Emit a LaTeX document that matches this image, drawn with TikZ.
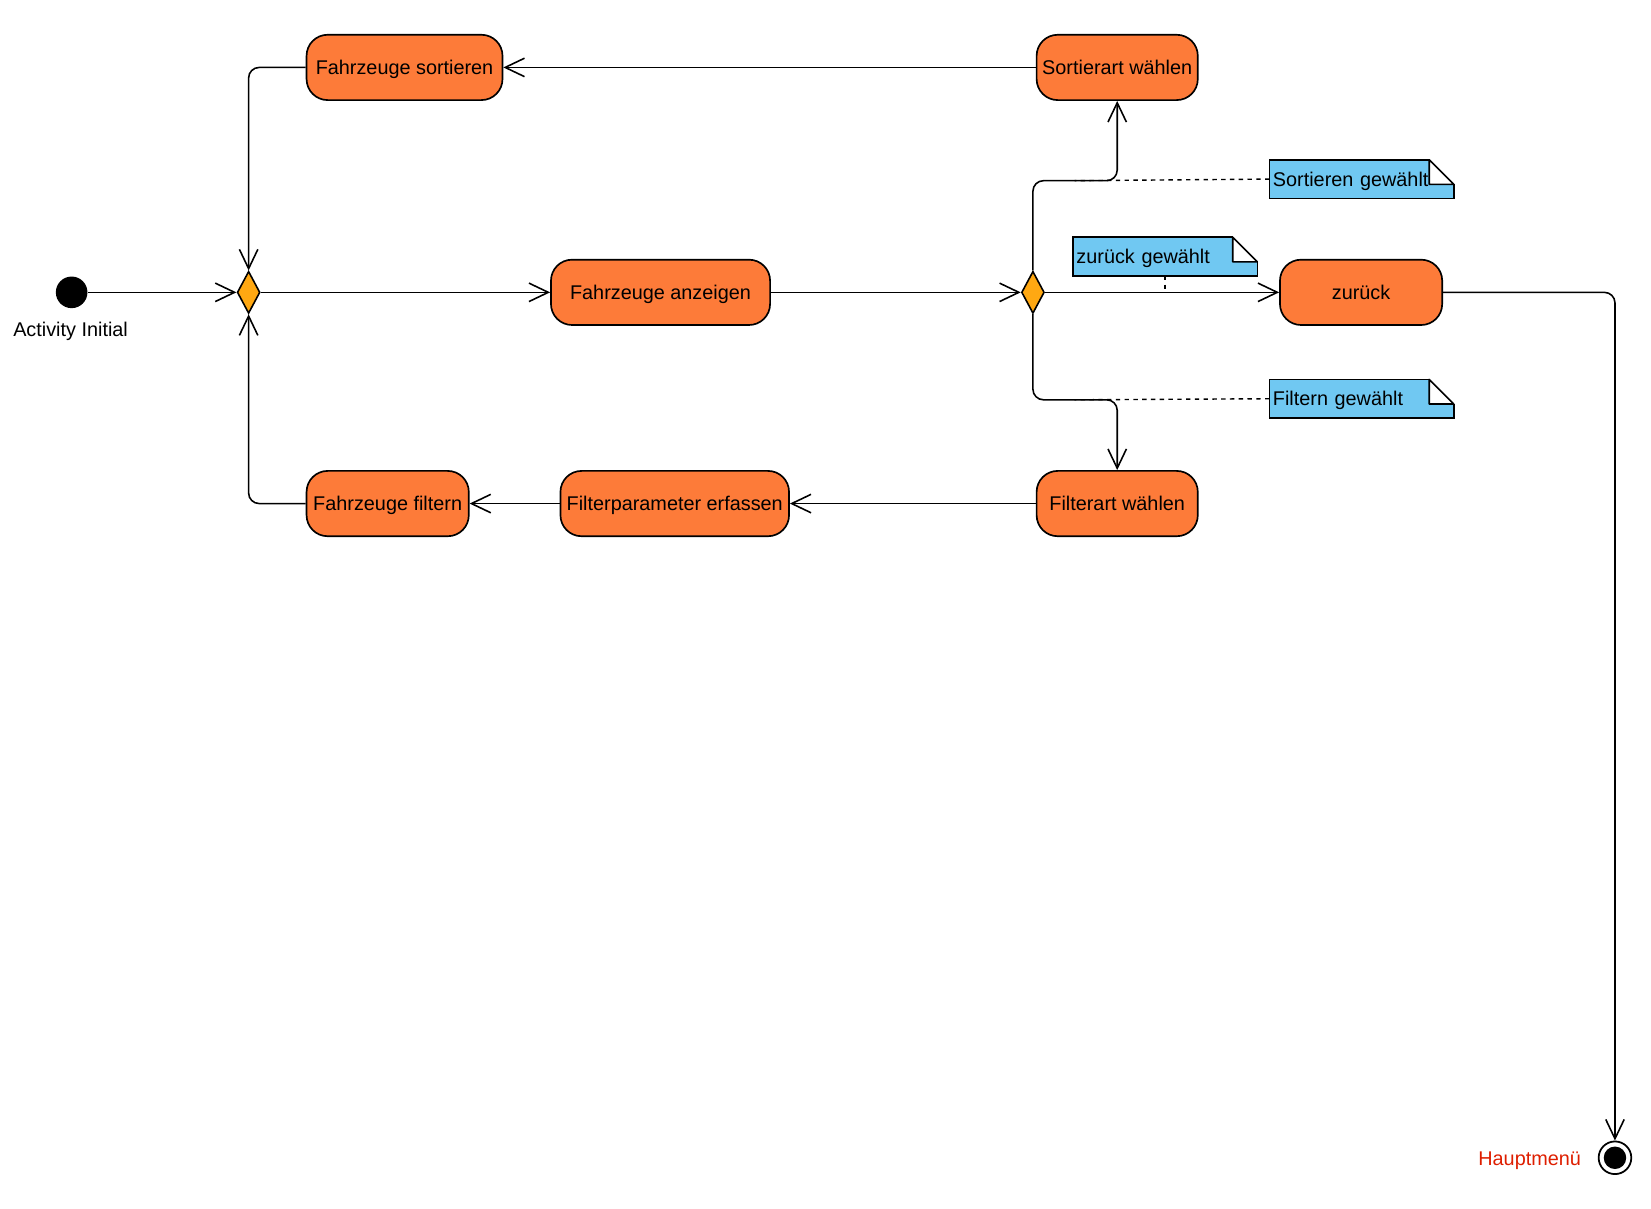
\documentclass[tikz,border=0pt]{standalone}
\usepackage{fontspec}
\setmainfont{Liberation Sans}
\usetikzlibrary{arrows.meta,shapes.geometric}
\definecolor{aktorange}{RGB}{253,123,57}
\definecolor{entsorange}{RGB}{255,168,18}
\definecolor{notizblau}{RGB}{112,200,242}
\definecolor{hmrot}{RGB}{222,30,0}
% Eselsohr einer Notiz
\newcommand{\notizfalz}[1]{%
  \fill[white] ([xshift=-14pt,yshift=0.6pt]#1.north east) rectangle ([xshift=0.6pt,yshift=-14pt]#1.north east);
  \draw[line width=0.9pt, line join=round] ([xshift=-14pt]#1.north east) -- ([yshift=-14pt]#1.north east)
    -- ([xshift=-14pt,yshift=-14pt]#1.north east) -- cycle;
}
\begin{document}
\begin{tikzpicture}[x=0.6pt, y=-0.6pt, font=\fontsize{11.3}{13.5}\selectfont,
    beschriftung/.style={text height=8.2pt, text depth=0pt},
    aktion/.style={beschriftung, draw, line width=0.95pt, fill=aktorange, rounded corners=12pt, minimum height=37.2pt, inner sep=2pt},
    entscheidung/.style={draw, line width=0.9pt, fill=entsorange, diamond, minimum width=13pt, minimum height=24pt, inner sep=0pt},
    notiz/.style={beschriftung, draw, line width=0.9pt, fill=notizblau, minimum height=22pt, text width=101pt, inner xsep=2pt, inner ysep=0pt, outer sep=0pt, align=left},
    fluss/.style={line width=0.9pt, -{Straight Barb[length=11pt,width=10.5pt]}, rounded corners=6pt},
    anker/.style={line width=0.8pt, dash pattern=on 2.5pt off 2.5pt}]
    \useasboundingbox (0,0) rectangle (1567.2,1146.7);

    % Start und Ende
    \node[circle, fill=black, minimum size=18pt, inner sep=0pt] (start) at (68,277.5) {};
    \node[beschriftung] (startlabel) at (67,313) {Activity Initial};
    \node[circle, draw, line width=1pt, minimum size=18.6pt, inner sep=0pt] (ende) at (1533,1099) {};
    \fill (ende) circle (6.4pt);
    \node[beschriftung, text=hmrot] (hm) at (1452,1099.5) {Hauptmenü};

    % Entscheidungen
    \node[entscheidung] (d1) at (236,277.5) {};
    \node[entscheidung] (d2) at (980.5,277.5) {};

    % Aktionen
    \node[aktion, minimum width=111.6pt] (fsort) at (384,64) {Fahrzeuge sortieren};
    \node[aktion, minimum width=91.8pt] (sortwahl) at (1060.5,64) {Sortierart wählen};
    \node[aktion, minimum width=124.8pt] (anzeigen) at (627,277.5) {Fahrzeuge anzeigen};
    \node[aktion, minimum width=92.4pt] (zurueck) at (1292,277.5) {zurück};
    \node[aktion, minimum width=92.4pt] (ffilt) at (368,478) {Fahrzeuge filtern};
    \node[aktion, minimum width=130.2pt] (fparam) at (640.5,478) {Filterparameter erfassen};
    \node[aktion, minimum width=91.8pt] (filtwahl) at (1060.5,478) {Filterart wählen};

    % Notizen
    \node[notiz] (nsort) at (1292.5,170) {Sortieren gewählt};
    \notizfalz{nsort}
    \node[notiz] (nzur) at (1106,243.5) {zurück gewählt};
    \notizfalz{nzur}
    \node[notiz] (nfilt) at (1292.5,378.5) {Filtern gewählt};
    \notizfalz{nfilt}

    \coordinate (k1) at (1020,171.5);
    \coordinate (k2) at (1020,379.5);

    % Kontrollfluss
    \draw[fluss] (start) -- (d1.west);
    \draw[fluss] (d1.east) -- (anzeigen.west);
    \draw[fluss] (anzeigen.east) -- (d2.west);
    \draw[fluss] (d2.east) -- (zurueck.west);
    \draw[fluss] (d2.north) |- (k1) -| (sortwahl.south);
    \draw[fluss] (d2.south) |- (k2) -| (filtwahl.north);
    \draw[fluss] (sortwahl.west) -- (fsort.east);
    \draw[fluss] (fsort.west) -| (d1.north);
    \draw[fluss] (filtwahl.west) -- (fparam.east);
    \draw[fluss] (fparam.west) -- (ffilt.east);
    \draw[fluss] (ffilt.west) -| (d1.south);
    \draw[fluss] (zurueck.east) -| (ende.north);

    % Notiz-Anker
    \draw[anker] (nsort.west) -- (k1);
    \draw[anker] (nfilt.west) -- (k2);
    \draw[anker] (nzur.south) -- (nzur.south |- d2.east);
\end{tikzpicture}
\end{document}
